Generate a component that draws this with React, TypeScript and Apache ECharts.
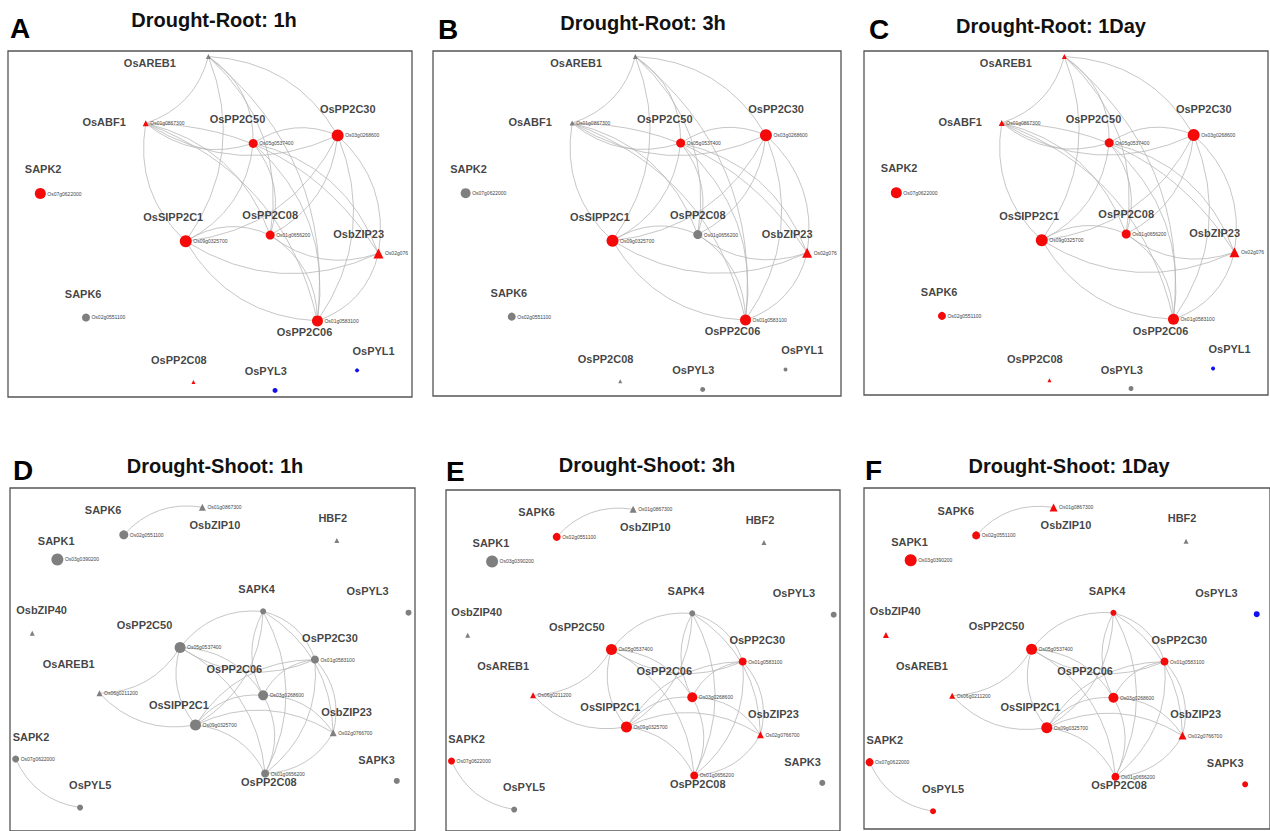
import React, { useEffect, useRef } from "react";
import * as echarts from "echarts";

const FONT = '"Liberation Sans", Arial, Helvetica, sans-serif';

// ---------- Root network (panels A-C) ----------
const rootGenes = ["OsAREB1", "OsABF1", "OsPP2C50", "OsPP2C30", "SAPK2", "OsSIPP2C1", "OsPP2C08", "OsbZIP23", "SAPK6", "OsPP2C06", "OsPP2C08", "OsPYL3", "OsPYL1"];
const rootIds = ["", "Os01g0867300", "Os05g0537400", "Os03g0268600", "Os07g0622000", "Os09g0325700", "Os01g0656200", "Os02g0766700", "Os02g0551100", "Os01g0583100", "", "", ""];
const rootShapes = ["triangle", "triangle", "circle", "circle", "circle", "circle", "circle", "triangle", "circle", "circle", "triangle", "circle", "circle"];
const rootNodeX = [49.6, 34.1, 60.7, 81.6, 8.0, 44.0, 64.9, 91.7, 19.3, 76.6, 45.9, 66.1, 86.4];
const rootNodeY = [1.6, 20.9, 26.7, 24.4, 41.2, 55.0, 53.2, 58.5, 77.0, 78.0, 95.7, 98.1, 92.3];
const rootNameX = [35.1, 23.8, 56.8, 84.1, 8.7, 40.9, 64.9, 86.8, 18.6, 73.4, 42.3, 63.8, 90.5];
const rootNameY = [3.4, 20.5, 19.7, 16.8, 34.1, 48.1, 47.5, 52.9, 70.2, 81.3, 89.4, 92.6, 86.7];
const rootEdges: [number, number][] = [
  [0, 1], [0, 2], [0, 3], [0, 5], [0, 6], [0, 9],
  [2, 1], [3, 1], [5, 1], [1, 6], [1, 7], [1, 9],
  [2, 3], [2, 5], [2, 6], [2, 7], [2, 9],
  [3, 5], [3, 6], [3, 7], [3, 9],
  [5, 6], [7, 5], [9, 5],
  [7, 6], [6, 9],
  [7, 9],
];
const sizeA = [5, 6, 9, 12, 11, 12, 9, 10, 8, 11, 4, 5, 4];
const colorA = ["g", "r", "r", "r", "r", "r", "r", "r", "g", "r", "r", "b", "b"];
const sizeB = [5, 5, 9, 12, 10, 12, 9, 10, 8, 11, 4, 5, 4];
const colorB = ["g", "g", "r", "r", "g", "r", "g", "r", "g", "r", "g", "g", "g"];
const sizeC = [5, 6, 9, 12, 11, 12, 9, 10, 8, 11, 4, 5, 4];
const colorC = ["r", "r", "r", "r", "r", "r", "r", "r", "r", "r", "r", "g", "b"];

// ---------- Shoot network (panels D-F) ----------
const shootGenes = ["SAPK6", "OsbZIP10", "HBF2", "SAPK1", "SAPK4", "OsPYL3", "OsbZIP40", "OsPP2C50", "OsPP2C30", "OsAREB1", "OsPP2C06", "OsSIPP2C1", "OsbZIP23", "SAPK2", "SAPK3", "OsPP2C08", "OsPYL5"];
const shootIds = ["Os02g0551100", "Os01g0867300", "", "Os03g0390200", "", "", "", "Os05g0537400", "Os01g0583100", "Os06g0211200", "Os03g0268600", "Os09g0325700", "Os02g0766700", "Os07g0622000", "", "Os01g0656200", ""];
const shootShapes = ["circle", "triangle", "triangle", "circle", "circle", "circle", "triangle", "circle", "circle", "triangle", "circle", "circle", "triangle", "circle", "circle", "circle", "circle"];
const shootNodeX = [28.1, 47.5, 80.7, 11.7, 62.5, 98.4, 5.5, 42.0, 75.3, 22.1, 62.5, 45.8, 79.8, 1.4, 95.5, 63.0, 17.3];
const shootNodeY = [13.9, 5.7, 15.6, 21.2, 36.6, 37.0, 43.1, 47.3, 50.9, 60.9, 61.5, 70.3, 72.6, 80.4, 86.9, 84.7, 94.8];
const shootNameX = [23.0, 50.6, 79.7, 11.4, 60.9, 88.3, 7.8, 33.2, 79.0, 14.5, 55.4, 41.7, 83.1, 5.2, 90.5, 63.9, 19.8];
const shootNameY = [6.6, 10.9, 8.9, 15.8, 30.1, 30.7, 36.1, 40.6, 44.6, 52.3, 53.6, 64.3, 66.4, 73.8, 80.6, 87.2, 88.2];
const shootEdges: [number, number][] = [
  [0, 1], [16, 13],
  [7, 4], [4, 8], [10, 4], [4, 11], [4, 12], [4, 15],
  [7, 9], [11, 7], [7, 10], [8, 7], [7, 15],
  [11, 9],
  [11, 10], [11, 8], [11, 12], [11, 15],
  [10, 8], [10, 12], [10, 15],
  [8, 12], [8, 15],
  [12, 15],
];
const sizeD = [9, 7, 5, 12, 6, 6, 5, 11, 8, 6, 10, 11, 7, 7, 6, 8, 6];
const colorD = ["g", "g", "g", "g", "g", "g", "g", "g", "g", "g", "g", "g", "g", "g", "g", "g", "g"];
const sizeE = [8, 7, 5, 12, 6, 6, 5, 11, 8, 6, 10, 11, 7, 7, 6, 8, 6];
const colorE = ["r", "g", "g", "g", "g", "g", "g", "r", "r", "r", "r", "r", "r", "r", "g", "r", "g"];
const sizeF = [8, 8, 5, 12, 6, 6, 6, 11, 8, 6, 10, 11, 8, 8, 6, 8, 6];
const colorF = ["r", "r", "g", "r", "r", "b", "r", "r", "r", "r", "r", "r", "r", "r", "r", "r", "r"];

const panelLetters = ["A", "B", "C", "D", "E", "F"];
const panelTitles = ["Drought-Root: 1h", "Drought-Root: 3h", "Drought-Root: 1Day", "Drought-Shoot: 1h", "Drought-Shoot: 3h", "Drought-Shoot: 1Day"];

const COLORS: Record<string, string> = { r: "#f50a0a", g: "#7f7f7f", b: "#1010f0" };

type Net = {
  genes: string[]; ids: string[]; shapes: string[];
  nx: number[]; ny: number[]; lx: number[]; ly: number[];
  edges: [number, number][];
};
const rootNet: Net = { genes: rootGenes, ids: rootIds, shapes: rootShapes, nx: rootNodeX, ny: rootNodeY, lx: rootNameX, ly: rootNameY, edges: rootEdges };
const shootNet: Net = { genes: shootGenes, ids: shootIds, shapes: shootShapes, nx: shootNodeX, ny: shootNodeY, lx: shootNameX, ly: shootNameY, edges: shootEdges };

// layout of panels (pixels): grid rect, layout unit size, title/letter placement
const panels = [
  { net: rootNet, sizes: sizeA, colors: colorA, left: 8, top: 51, width: 404, height: 346, uw: 404, uh: 346, lx: 10, ly: 28, tx: 214, ty: 19.5, trunc: 26 },
  { net: rootNet, sizes: sizeB, colors: colorB, left: 433, top: 51, width: 408, height: 345, uw: 408, uh: 345, lx: 438, ly: 29.5, tx: 643, ty: 22.5, trunc: 26 },
  { net: rootNet, sizes: sizeC, colors: colorC, left: 864, top: 51, width: 404, height: 344, uw: 404, uh: 344, lx: 869, ly: 29, tx: 1051, ty: 25.5, trunc: 26 },
  { net: shootNet, sizes: sizeD, colors: colorD, left: 10, top: 488, width: 405, height: 348, uw: 405, uh: 342, lx: 13, ly: 470, tx: 215, ty: 465.5, trunc: 0 },
  { net: shootNet, sizes: sizeE, colors: colorE, left: 446, top: 490, width: 394, height: 346, uw: 394, uh: 342, lx: 446, ly: 471, tx: 647, ty: 464.5, trunc: 0 },
  { net: shootNet, sizes: sizeF, colors: colorF, left: 864, top: 488, width: 412, height: 341, uw: 405, uh: 341, lx: 865, ly: 470, tx: 1069, ty: 465.5, trunc: 0 },
];

function buildOption() {
  const grid: any[] = [];
  const xAxis: any[] = [];
  const yAxis: any[] = [];
  const series: any[] = [];
  const graphic: any[] = [];

  panels.forEach((p, i) => {
    grid.push({
      left: p.left, top: p.top, width: p.width, height: p.height,
      show: true, borderColor: "#555", borderWidth: 1.3, backgroundColor: "#fff", containLabel: false,
    });
    xAxis.push({ gridIndex: i, type: "value", min: 0, max: (100 * p.width) / p.uw, show: false });
    yAxis.push({ gridIndex: i, type: "value", min: 0, max: (100 * p.height) / p.uh, inverse: true, show: false });

    const n = p.net;
    const nodes = n.genes.map((g, k) => {
      const id = n.ids[k];
      const isLast = p.trunc > 0 && g === "OsbZIP23";
      return {
        name: g + "_" + k,
        value: [n.nx[k], n.ny[k]],
        symbol: n.shapes[k],
        symbolSize: p.sizes[k],
        itemStyle: { color: COLORS[p.colors[k]] },
        label: {
          show: id !== "",
          formatter: id,
          ...(isLast ? { width: p.trunc, overflow: "truncate", ellipsis: "" } : {}),
        },
      };
    });
    series.push({
      type: "graph",
      coordinateSystem: "cartesian2d",
      xAxisIndex: i,
      yAxisIndex: i,
      layout: "none",
      roam: false,
      silent: true,
      z: 3,
      data: nodes,
      links: n.edges.map(([s, t]) => ({ source: s, target: t })),
      lineStyle: { color: "#b8b8b8", width: 0.8, curveness: 0.27, opacity: 1 },
      label: { position: "right", distance: 1.5, fontSize: 5, color: "#444", fontFamily: FONT },
      emphasis: { disabled: true },
    });
    series.push({
      type: "scatter",
      xAxisIndex: i,
      yAxisIndex: i,
      symbolSize: 0,
      silent: true,
      z: 4,
      data: n.genes.map((g, k) => ({ name: g, value: [n.lx[k], n.ly[k]] })),
      label: {
        show: true, position: "inside", formatter: "{b}",
        fontSize: 11, fontWeight: "bold", color: "#111", fontFamily: FONT,
      },
      emphasis: { disabled: true },
    });

    graphic.push({
      type: "text", x: p.lx, y: p.ly, z: 10,
      style: { text: panelLetters[i], font: `bold 28px ${FONT}`, fill: "#000", textAlign: "left", textVerticalAlign: "middle", align: "left", verticalAlign: "middle" },
    });
    graphic.push({
      type: "text", x: p.tx, y: p.ty, z: 10,
      style: { text: panelTitles[i], font: `bold 20px ${FONT}`, fill: "#111", textAlign: "center", textVerticalAlign: "middle", align: "center", verticalAlign: "middle" },
    });
  });

  return {
    animation: false,
    backgroundColor: "#fff",
    tooltip: { show: false },
    grid, xAxis, yAxis, series, graphic,
  };
}

export default function App() {
  const ref = useRef<HTMLDivElement>(null);
  useEffect(() => {
    document.body.style.margin = "0";
    if (!ref.current) return;
    const chart = echarts.init(ref.current, undefined, { renderer: "svg" });
    chart.setOption(buildOption() as any);
    return () => chart.dispose();
  }, []);
  return <div ref={ref} style={{ width: 1270, height: 831 }} />;
}
